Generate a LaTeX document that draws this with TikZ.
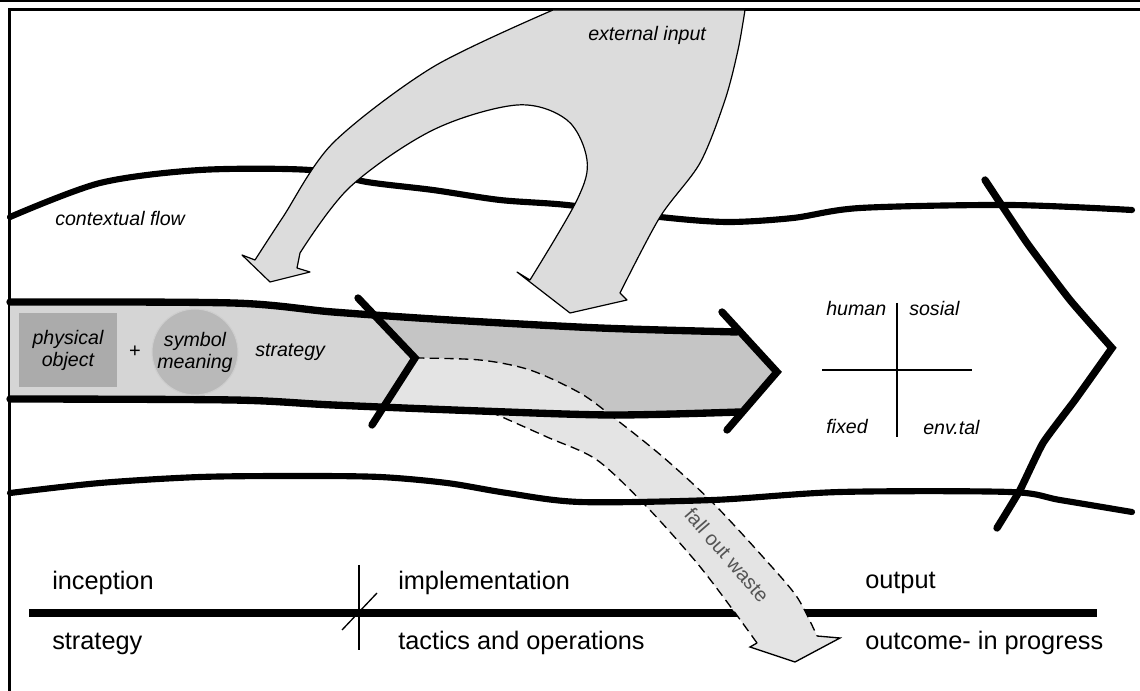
\documentclass[tikz,border=0pt]{standalone}
\usepackage{fontspec}
\setmainfont{Liberation Sans}
\definecolor{bandlight}{HTML}{D5D5D5}
\definecolor{banddark}{HTML}{C5C5C5}
\definecolor{falllight}{HTML}{E4E4E4}
\definecolor{extgray}{HTML}{DCDCDC}
\definecolor{boxgray}{HTML}{ABABAB}
\definecolor{circgray}{HTML}{B9B9B9}
\definecolor{wastetext}{HTML}{555555}
\begin{document}
\begin{tikzpicture}[x=0.75pt,y=-0.75pt,
  heavy/.style={line width=5.5pt, line cap=round, line join=round},
  ctxline/.style={line width=4.6pt, line cap=round, line join=round},
  chev/.style={line width=5.5pt, line cap=round, line join=miter},
  thinout/.style={line width=0.9pt, line join=round},
  lbl/.style={font=\fontsize{14.7}{16.5}\selectfont\itshape, inner sep=0pt},
  tl/.style={font=\fontsize{19}{22}\selectfont, inner sep=0pt, anchor=west},
  dashedge/.style={line width=1pt, dash pattern=on 7pt off 4pt}]
\useasboundingbox (0,0) rectangle (1140,691);
\fill[white] (0,0) rectangle (1140,691);

% frame
\draw[line width=0.8pt] (0,1) -- (1140,1);
\draw[line width=2.3pt, line join=miter] (9.5,691) -- (9.5,9.5) -- (1140,9.5);

% timeline
\draw[line width=5.5pt] (29,613) -- (1097,613);
\draw[line width=1.3pt] (359,565) -- (359,650);
\draw[line width=1pt] (377,593) -- (342,630);

% band fill
\fill[bandlight] plot[smooth,tension=0.5] coordinates {(10,302) (233,303) (333,312) (450,320) (600,328) (737,332)}
  -- (777,372) -- plot[smooth,tension=0.5] coordinates {(740,412) (613,415) (480,411) (333,405) (233,400) (10,399)} -- cycle;
\begin{scope}
\clip plot[smooth,tension=0.5] coordinates {(10,302) (233,303) (333,312) (450,320) (600,328) (737,332)}
  -- (777,372) -- plot[smooth,tension=0.5] coordinates {(740,412) (613,415) (480,411) (333,405) (233,400) (10,399)} -- cycle;
\fill[banddark] (358,290) -- (415,358) -- (372,430) -- (800,430) -- (800,290) -- cycle;
\end{scope}

% fall out waste arrow
\fill[falllight] plot[smooth,tension=0.5] coordinates {(415,358) (480,360) (530,370) (580,393) (613,417) (663,457) (713,503) (763,557) (797,597) (817,636)}
  -- (840,638) -- (795,662) -- (750,647) -- (757,643)
  -- plot[smooth,tension=0.5] coordinates {(757,643) (733,610) (697,563) (647,507) (597,460) (547,437) (493,413)}
  -- (382,408) -- cycle;
\draw[dashedge] plot[smooth,tension=0.5] coordinates {(415,358) (480,360) (530,370) (580,393) (613,417) (663,457) (713,503) (763,557) (797,597) (817,636)};
\draw[dashedge] plot[smooth,tension=0.5] coordinates {(757,643) (733,610) (697,563) (647,507) (597,460) (547,437) (493,413)};
\draw[line width=1pt, line join=miter] (817,636) -- (840,638) -- (795,662) -- (750,647) -- (757,643);
\node[font=\fontsize{15}{17}\selectfont, text=wastetext, rotate=-49, inner sep=0pt] (waste) at (727,555) {fall out waste};

% band lines
\draw[heavy] plot[smooth,tension=0.5] coordinates {(10,302) (233,303) (333,312) (450,320) (600,328) (737,332)};
\draw[heavy] plot[smooth,tension=0.5] coordinates {(10,399) (233,400) (333,405) (480,411) (613,415) (740,412)};

% contextual flow lines
\draw[ctxline] plot[smooth,tension=0.5] coordinates {(10,217) (100,183) (200,170) (310,170) (367,182) (433,190) (500,200) (567,205) (660,217) (727,222) (793,218) (860,208) (1010,205) (1132,210)};
\draw[ctxline] plot[smooth,tension=0.5] coordinates {(10,493) (100,483) (200,477) (300,476) (380,477) (447,483) (507,493) (580,502) (713,500) (840,492) (1010,492) (1060,500) (1132,512)};

% external input arrow
\filldraw[fill=extgray, draw=black, thinout]
  plot[smooth,tension=0.5] coordinates {(553,10) (433,67) (333,143) (283,217) (255,260)}
  -- (242,255) -- (270,282) -- (310,272) -- (297,268)
  -- plot[smooth,tension=0.55] coordinates {(300,253) (350,187) (433,130) (517,105) (567,120) (587,160) (577,200) (530,280)}
  -- (517,272) -- (570,313) -- (627,300) -- (620,293)
  -- plot[smooth,tension=0.5] coordinates {(620,293) (660,217) (700,163) (725,100) (738,50) (745,10)} -- cycle;

% chevrons
\draw[chev] (358,298) -- (415,358) -- (372,425);
\draw[chev] (722,312) -- (777,372) -- (727,430);
\draw[chev] plot[smooth,tension=0.3] coordinates {(985,180) (1027,243) (1070,300) (1112,348)}
  -- plot[smooth,tension=0.3] coordinates {(1112,348) (1075,400) (1043,443) (1020,490) (997,528)};

% quadrant
\draw[line width=1.1pt] (897,303) -- (897,437);
\draw[line width=1.1pt] (822,370) -- (972,370);

% band content
\node[fill=boxgray, minimum width=73.5pt, minimum height=56pt, inner sep=0pt, align=center,
  font=\fontsize{14.7}{16.5}\selectfont\itshape] (phys) at (68,350) {physical\\object};
\node[circle, fill=circgray, draw=circgray!70!white, line width=0.8pt, minimum size=64.5pt, inner sep=0pt, align=center,
  font=\fontsize{14.7}{16.5}\selectfont\itshape] (sym) at (195,352) {symbol\\meaning};
\node[font=\fontsize{15}{17}\selectfont, inner sep=0pt] (plus) at (135,352) {+};
\node[lbl, anchor=west] (strat) at (255,352) {strategy};

% labels
\node[lbl, anchor=west] (ctx) at (55,218) {contextual flow};
\node[lbl, anchor=west] (ext) at (588,35) {external input};
\node[lbl, anchor=west] (human) at (826,308) {human};
\node[lbl, anchor=west] (sosial) at (909,308) {sosial};
\node[lbl, anchor=west] (fixed) at (826,427) {fixed};
\node[lbl, anchor=west] (envtal) at (923,427) {env.tal};

% timeline labels
\node[tl] (incep) at (52,583) {inception};
\node[tl] (strat2) at (52,644) {strategy};
\node[tl] (impl) at (398,583) {implementation};
\node[tl] (tact) at (398,643) {tactics and operations};
\node[tl] (outp) at (865,583) {output};
\node[tl] (outc) at (865,643) {outcome- in progress};
\end{tikzpicture}
\end{document}
